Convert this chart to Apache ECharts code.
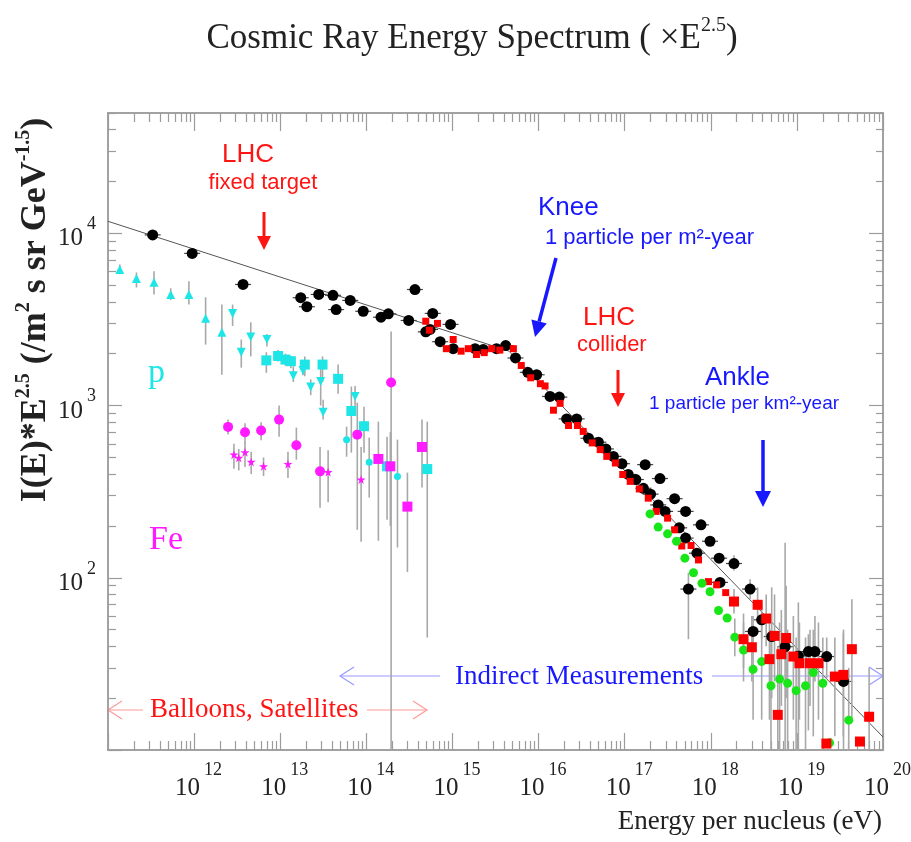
<!DOCTYPE html>
<html>
<head>
<meta charset="utf-8">
<script src="https://cdn.jsdelivr.net/npm/echarts@6/dist/echarts.min.js"></script>
<style>
  html, body { margin: 0; padding: 0; background: #fff; }
  #chart { width: 911px; height: 842px; }
</style>
</head>
<body>
<div id="chart"></div>
<script>
  // tick labels (powers of ten)
  const xExponents = [12, 13, 14, 15, 16, 17, 18, 19, 20];
  const yExponents = [2, 3, 4];

  // broken power-law guide line [E (eV), flux*E^2.5]
  const fitLine = [[1e11, 11750], [4.5e15, 2075], [1e20, 11.9]];

  // [E, flux, errLow, errHigh]
  const blackPts = [
    [3.3e11, 9800], [9.5e11, 7650], [3.7e12, 5050], [1.73e13, 4230], [2.04e13, 3750],
    [2.8e13, 4420], [4.1e13, 4370], [4.46e13, 3610], [6.5e13, 4080], [9.2e13, 3530],
    [1.48e14, 3260], [1.8e14, 3410], [3.1e14, 3120], [3.67e14, 4720], [4.9e14, 2680],
    [5.5e14, 2770], [5.9e14, 3430], [7.2e14, 2350], [9.5e14, 2960], [1.02e15, 2140],
    [1.83e15, 2140], [2.28e15, 2120], [3.25e15, 2140], [4.15e15, 2230], [5.4e15, 1890],
    [7.5e15, 1560], [9.5e15, 1510], [1.36e16, 1130], [1.74e16, 1120], [2.12e16, 837],
    [2.77e16, 837], [3.8e16, 646], [4.95e16, 613], [6.05e16, 560], [7.4e16, 507],
    [9.3e16, 460], [1.1e17, 398], [1.35e17, 372], [1.73e17, 454], [1.65e17, 331],
    [2.0e17, 306], [2.57e17, 377], [2.45e17, 265], [2.95e17, 243], [3.8e17, 288],
    [4.3e17, 195], [5.1e17, 243], [5.1e17, 170], [6.9e17, 139], [7.7e17, 203],
    [9.8e17, 163], [1.25e18, 130], [1.28e18, 94], [5.5e17, 86, 44, 107],
    [1.86e18, 121, 110, 135], [2.86e18, 86, 75, 98], [3.9e18, 57, 44, 73],
    [3.1e18, 48.8, 38, 60], [5.1e18, 45.6, 20, 88], [7.3e18, 39.8, 10, 160],
    [1.04e19, 35.2, 10, 72], [1.36e19, 37.3, 13, 47], [1.62e19, 37.3, 25, 60],
    [2.22e19, 34.9, 26, 45], [3.48e19, 25, 10, 50]
  ];

  const redSmall = [
    [4.9e14, 3090], [5.4e14, 2740], [6.7e14, 3000], [8.5e14, 2140], [1.02e15, 2420],
    [1.26e15, 2070], [1.53e15, 2140], [1.9e15, 1980], [2.34e15, 2030], [2.86e15, 2140],
    [3.55e15, 2100], [5.1e15, 2140], [6.3e15, 1710], [8.1e15, 1450], [1.05e16, 1340],
    [1.19e16, 1300], [1.49e16, 940], [1.78e16, 1030], [2.23e16, 766], [2.83e16, 766],
    [3.3e16, 708], [4.2e16, 607], [5.2e16, 555], [6.2e16, 507], [7.8e16, 464],
    [9.5e16, 398], [1.16e17, 363], [1.48e17, 328], [1.88e17, 290], [2.32e17, 243],
    [3.15e17, 222], [3.8e17, 190], [4.6e17, 153], [5.9e17, 154], [7.2e17, 127],
    [9.4e17, 95], [1.17e18, 91], [1.49e18, 82]
  ];

  const redLarge = [
    [1.86e18, 72.8, 62, 86], [2.4e18, 44, 30, 62], [3.0e18, 39.5, 25, 60],
    [3.5e18, 69.7, 55, 88], [4.4e18, 58, 40, 80], [4.8e18, 33.7, 15, 60],
    [5.5e18, 46, 25, 80], [6.0e18, 16, 10, 40], [6.6e18, 36, 18, 65],
    [7.5e18, 44.7, 20, 90], [9.1e18, 34.9, 15, 60], [1.07e19, 31.9, 15, 55],
    [1.42e19, 31.9, 18, 50], [1.78e19, 31.9, 15, 55], [2.2e19, 10.9],
    [2.76e19, 26.7, 12, 45], [3.46e19, 27.3, 12, 48], [4.35e19, 38.5, 15, 75],
    [5.4e19, 11.2], [6.9e19, 15.6, 10, 30]
  ];

  const greenPts = [
    [1.97e17, 235], [2.45e17, 197], [3.15e17, 180], [4.0e17, 163], [5.0e17, 130],
    [6.3e17, 107], [7.9e17, 93], [9.8e17, 83], [1.23e18, 64.6], [1.55e18, 58.4],
    [1.9e18, 45.2, 35, 58], [2.4e18, 38.1, 25, 55], [3.1e18, 29.4, 15, 50],
    [3.9e18, 32.6, 15, 60], [5.0e18, 23.6, 10, 50], [6.3e18, 25.8, 10, 55],
    [7.8e18, 24.4, 10, 50], [9.8e18, 22.1, 10, 45], [1.26e19, 23.6, 10, 45],
    [1.55e19, 28.2, 12, 50], [2.0e19, 24.4, 10, 45], [2.4e19, 11.0], [4.0e19, 14.9, 10, 30]
  ];

  // protons
  const cyanUp = [
    [1.37e11, 6170, 5800, 6600], [2.14e11, 5470, 4850, 5930], [3.42e11, 5200, 4420, 6030],
    [5.35e11, 4420, 4100, 4800], [8.7e11, 4420, 3860, 5270], [1.36e12, 3210, 2260, 4250],
    [2.1e12, 2670, 1510, 3860]
  ];
  const cyanDown = [
    [2.8e12, 3430, 2900, 3860], [3.53e12, 2040, 1660, 2420], [4.55e12, 2500, 1930, 3040],
    [7.0e12, 2420, 2200, 2600], [1.42e13, 1490, 1370, 1690], [1.84e13, 1600, 1500, 1700],
    [2.26e13, 1280, 1150, 1420], [2.95e13, 1380, 1000, 1690], [3.15e13, 914, 830, 1080],
    [7.4e13, 1130, 960, 1300]
  ];
  const cyanSquare = [
    [6.9e12, 1830, 1550, 2040], [9.45e12, 1940, 1800, 2100], [1.15e13, 1850, 1700, 2000],
    [1.33e13, 1810, 1650, 1950], [1.93e13, 1730, 1480, 1930], [3.1e13, 1730, 1370, 1930],
    [4.7e13, 1430, 1170, 1730], [6.7e13, 930, 533, 1290], [9.4e13, 759, 533, 986],
    [1.74e14, 444, 217, 660], [5.1e14, 428, 45, 807]
  ];
  const cyanDot = [
    [5.9e13, 634, 505, 755], [1.08e14, 468, 292, 652], [2.3e14, 388, 150, 634]
  ];

  // iron
  const magCircle = [
    [2.48e12, 752, 680, 830], [3.9e12, 700, 600, 790], [6.0e12, 716, 630, 800],
    [9.7e12, 829, 660, 1000], [1.54e13, 588, 485, 745], [2.9e13, 415, 255, 575],
    [7.85e13, 678, 190, 1040], [1.94e14, 1360, 10, 2690]
  ];
  const magStar = [
    [2.9e12, 519, 430, 600], [3.3e12, 497, 420, 560], [3.9e12, 535, 440, 610],
    [4.6e12, 471, 400, 540], [6.4e12, 444, 390, 500], [1.23e13, 458, 380, 540],
    [3.6e13, 411, 275, 550], [8.7e13, 372, 162, 575]
  ];
  const magSquare = [
    [1.38e14, 490, 164, 807], [1.9e14, 444, 200, 700], [3.0e14, 259, 108, 408],
    [4.43e14, 575, 334, 830]
  ];
  const magOpen = [[6.0e11, 550], [9.0e11, 580], [2.0e12, 512]];

  const SERIF = '"Liberation Serif", "Times New Roman", serif';
  const SANS = '"Liberation Sans", Arial, sans-serif';
  const RED = '#ff1414';
  const BLUE = '#1818ff';
  const AXIS = '#9c9c9c';
  const ERR = '#a8a8a8';
  const STAR = 'path://M50,0 L61,35 L98,35 L68,57 L79,91 L50,70 L21,91 L32,57 L2,35 L39,35 Z';

  // tick positions
  const xMajor = [], xMinor = [], yMajor = [10, 100, 1000, 10000], yMinor = [];
  for (let d = 11; d <= 20; d++) {
    xMajor.push(Math.pow(10, d));
    if (d < 20) for (let m = 2; m <= 9; m++) xMinor.push(m * Math.pow(10, d));
  }
  for (let d = 1; d <= 4; d++) {
    for (let m = 2; m <= 9; m++) if (m * Math.pow(10, d) <= 5e4) yMinor.push(m * Math.pow(10, d));
  }

  // superscript: base sits at the bottom of a tall line, exponent at its top
  function powRich(baseLH) {
    return {
      b: { fontFamily: SERIF, fontSize: 25, color: '#222', lineHeight: baseLH, verticalAlign: 'bottom' },
      s: { fontFamily: SERIF, fontSize: 18, color: '#222', lineHeight: 18, padding: [0, 0, 0, 4], verticalAlign: 'top' }
    };
  }
  const powLabel = (v) => '{b|10}{s|' + Math.round(Math.log10(v)) + '}';

  function axis(dir, pos, ticks, len, labels) {
    const isX = dir === 'x';
    return {
      type: 'log',
      logBase: 10,
      position: pos,
      min: isX ? 1e11 : 10,
      max: isX ? 1e20 : 5e4,
      axisLine: { show: true, lineStyle: { color: AXIS, width: 1.5 } },
      axisTick: { show: true, inside: true, length: len, customValues: ticks, lineStyle: { color: AXIS, width: 1.2 } },
      minorTick: { show: false },
      splitLine: { show: false },
      axisPointer: { show: false },
      axisLabel: labels
        ? (isX
          ? { show: true, customValues: labels, formatter: powLabel, rich: powRich(40), margin: 11, padding: [0, 0, 0, 9] }
          : { show: true, customValues: labels, formatter: powLabel, rich: powRich(36), margin: 12 })
        : { show: false }
    };
  }

  function scatter(data, symbol, size, color, extra) {
    return Object.assign({
      type: 'scatter',
      data: data.map((d) => [d[0], d[1]]),
      symbol: symbol,
      symbolSize: size,
      itemStyle: { color: color, opacity: 1 },
      z: 5,
      silent: true,
      animation: false
    }, extra || {});
  }

  function errBars(data, hBar) {
    const rows = hBar ? data : data.filter((d) => d.length >= 4);
    return {
      type: 'custom',
      data: rows.map((d) => [d[0], d[1], d.length >= 4 ? d[2] : d[1], d.length >= 4 ? d[3] : d[1]]),
      encode: { x: 0, y: 1 },
      clip: true,
      z: 3,
      silent: true,
      animation: false,
      renderItem: function (params, api) {
        const x = api.value(0);
        const kids = [];
        const a = api.coord([x, api.value(2)]);
        const b = api.coord([x, api.value(3)]);
        if (Math.abs(a[1] - b[1]) > 1) {
          kids.push({ type: 'line', shape: { x1: a[0], y1: a[1], x2: b[0], y2: b[1] }, style: { stroke: ERR, lineWidth: 1.6 } });
        }
        if (hBar) {
          const c = api.coord([x, api.value(1)]);
          kids.push({ type: 'line', shape: { x1: c[0] - 8, y1: c[1], x2: c[0] + 8, y2: c[1] }, style: { stroke: '#444', lineWidth: 1.2 } });
        }
        return { type: 'group', children: kids };
      }
    };
  }

  function arrow(x1, y1, x2, y2, color, width, len, half, filled) {
    const L = Math.hypot(x2 - x1, y2 - y1);
    const ux = (x2 - x1) / L, uy = (y2 - y1) / L;
    const bx = x2 - ux * len, by = y2 - uy * len;
    const p1 = [bx - uy * half, by + ux * half];
    const p2 = [bx + uy * half, by - ux * half];
    const shaftEnd = filled ? [bx, by] : [x2, y2];
    const out = [{ type: 'line', shape: { x1: x1, y1: y1, x2: shaftEnd[0], y2: shaftEnd[1] }, style: { stroke: color, lineWidth: width } }];
    if (filled) {
      out.push({ type: 'polygon', shape: { points: [[x2, y2], p1, p2] }, style: { fill: color } });
    } else {
      out.push({ type: 'polyline', shape: { points: [p1, [x2, y2], p2] }, style: { stroke: color, lineWidth: width, fill: null } });
    }
    return out;
  }

  function label(x, y, text, font, size, color, align, extra) {
    return {
      type: 'text', x: x, y: y,
      style: Object.assign({ text: text, fontFamily: font, fontSize: size, fill: color, align: align || 'left', verticalAlign: 'middle' }, extra || {})
    };
  }

  const graphics = [
    {
      type: 'text', x: 472, y: 36,
      style: {
        text: '{t|Cosmic Ray Energy Spectrum ( ×E}{u|2.5}{t|)}',
        align: 'center', verticalAlign: 'middle',
        rich: {
          t: { fontFamily: SERIF, fontSize: 35, fill: '#222', lineHeight: 40, verticalAlign: 'bottom' },
          u: { fontFamily: SERIF, fontSize: 20, fill: '#222', lineHeight: 20, verticalAlign: 'top' }
        }
      }
    },
    {
      type: 'text', x: 34, y: 310, rotation: Math.PI / 2,
      style: {
        text: '{n|I(E)*E}{s|2.5}{n| (/m}{s|2}{n| s sr GeV}{s|-1.5}{n|)}',
        align: 'center', verticalAlign: 'middle',
        rich: {
          n: { fontFamily: SERIF, fontSize: 36, fontWeight: 'bold', fill: '#222', lineHeight: 40, verticalAlign: 'bottom' },
          s: { fontFamily: SERIF, fontSize: 20, fontWeight: 'bold', fill: '#222', lineHeight: 20, verticalAlign: 'top' }
        }
      }
    },
    label(882, 822, 'Energy per nucleus (eV)', SERIF, 27, '#222', 'right'),
    label(248, 155, 'LHC', SANS, 26, RED, 'center'),
    label(263, 183, 'fixed target', SANS, 22, RED, 'center'),
    label(538, 208, 'Knee', SANS, 26, BLUE),
    label(545, 238, '1 particle per m²-year', SANS, 22, BLUE),
    label(583, 318, 'LHC', SANS, 26, RED),
    label(577, 345, 'collider', SANS, 22, RED),
    label(705, 378, 'Ankle', SANS, 26, BLUE),
    label(649, 404, '1 particle per km²-year', SANS, 19, BLUE),
    label(148, 373, 'p', SERIF, 34, '#1ee6e6'),
    label(149, 540, 'Fe', SERIF, 34, '#ff1aff'),
    label(455, 677, 'Indirect Measurements', SERIF, 27, BLUE),
    label(150, 710, 'Balloons, Satellites', SERIF, 27, RED)
  ].concat(
    arrow(264, 212, 264, 250, RED, 3, 14, 7, true),
    arrow(556, 258, 535, 337, BLUE, 3.5, 16, 8, true),
    arrow(618, 370, 618, 407, RED, 3, 14, 7, true),
    arrow(763, 440, 763, 507, BLUE, 3.5, 16, 8, true),
    arrow(440, 676, 340, 676, '#9a9aff', 1.2, 14, 9, false),
    arrow(712, 676, 883, 676, '#9a9aff', 1.2, 14, 9, false),
    arrow(143, 710, 108, 710, '#ff9a9a', 1.2, 14, 9, false),
    arrow(367, 710, 427, 710, '#ff9a9a', 1.2, 14, 9, false)
  );

  const option = {
    backgroundColor: '#fff',
    animation: false,
    grid: { left: 108, right: 28, top: 113, bottom: 92, containLabel: false, outerBoundsMode: 'none' },
    xAxis: [
      axis('x', 'bottom', xMajor, 17, xExponents.map((e) => Math.pow(10, e))),
      axis('x', 'bottom', xMinor, 9),
      axis('x', 'top', xMajor, 18),
      axis('x', 'top', xMinor, 9)
    ],
    yAxis: [
      axis('y', 'left', yMajor, 14, yExponents.map((e) => Math.pow(10, e))),
      axis('y', 'left', yMinor, 8),
      axis('y', 'right', yMajor, 14),
      axis('y', 'right', yMinor, 7)
    ],
    series: [
      {
        type: 'line', data: fitLine, symbol: 'none', silent: true, z: 2,
        lineStyle: { color: '#555', width: 1 }
      },
      errBars(cyanUp), errBars(cyanDown), errBars(cyanSquare), errBars(cyanDot),
      errBars(magCircle), errBars(magStar), errBars(magSquare),
      errBars(blackPts, true), errBars(redLarge), errBars(greenPts),
      scatter(cyanUp, 'triangle', 9, '#1ee6e6'),
      scatter(cyanDown, 'triangle', 9, '#1ee6e6', { symbolRotate: 180 }),
      scatter(cyanSquare, 'rect', 10, '#1ee6e6'),
      scatter(cyanDot, 'circle', 7, '#1ee6e6'),
      scatter(magCircle, 'circle', 10, '#ff1aff'),
      scatter(magStar, STAR, 9, '#ff1aff'),
      scatter(magSquare, 'rect', 10, '#ff1aff'),
      scatter(magOpen, 'emptyCircle', 8, '#ff66ff', { itemStyle: { color: '#fff', borderColor: '#ff66ff', borderWidth: 1 } }),
      scatter(blackPts, 'circle', 11, '#000'),
      scatter(redSmall, 'rect', 7, '#ff0000', { z: 6 }),
      scatter(greenPts, 'circle', 9, '#19e619', { z: 6 }),
      scatter(redLarge, 'rect', 10, '#ff0000', { z: 6 })
    ],
    graphic: graphics
  };

  const chart = echarts.init(document.getElementById('chart'));
  chart.setOption(option);
</script>
</body>
</html>
